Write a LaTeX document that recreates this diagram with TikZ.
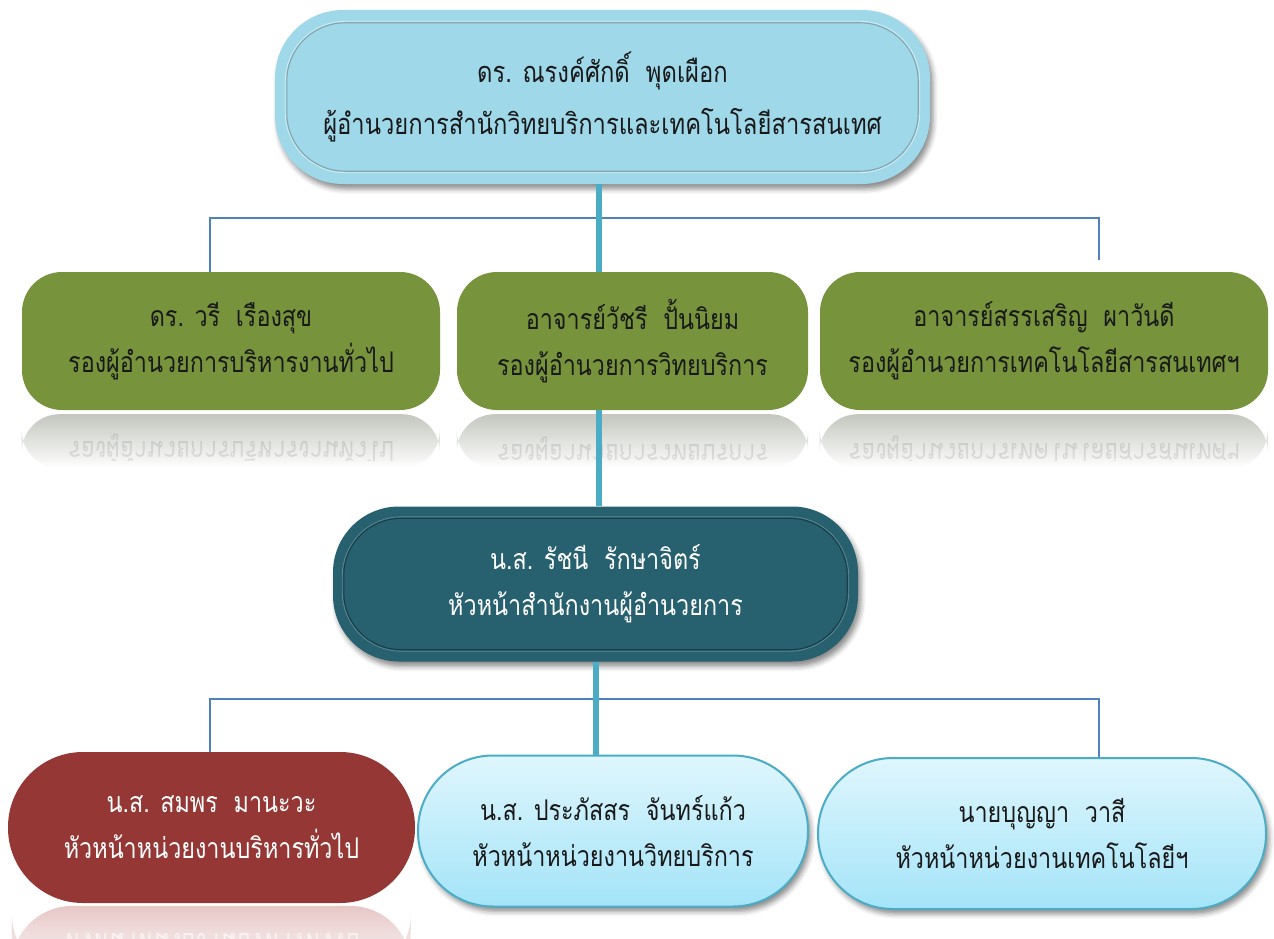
\documentclass[tikz,border=0pt]{standalone}
\usepackage{fontspec}
\usepackage{graphicx}
\newfontfamily\thai[Script=Thai, FakeStretch=0.82]{Loma}
\usetikzlibrary{shadows.blur,fadings}

\definecolor{topfill}{HTML}{9ED8E9}
\definecolor{vpgreen}{HTML}{77933C}
\definecolor{officeteal}{HTML}{27606F}
\definecolor{unitred}{HTML}{953735}
\definecolor{unittop}{HTML}{DFF6FD}
\definecolor{unitbot}{HTML}{A4E4F8}
\definecolor{unitedge}{HTML}{4BACC6}
\definecolor{busblue}{HTML}{4F81BD}
\definecolor{trunkteal}{HTML}{4BACC6}
\definecolor{reflgray}{HTML}{A3A99B}
\definecolor{reflred}{HTML}{D9A9A8}

\tikzfading[name=reflfade, top color=transparent!35, bottom color=transparent!100]

\tikzset{
  orgbox/.style={align=center, inner sep=0pt, text=black!90,
    font=\thai\fontsize{28.5}{46}\selectfont},
  softshadow/.style={blur shadow={shadow xshift=3pt, shadow yshift=-5pt,
    shadow opacity=45, shadow blur radius=5pt}},
  topbox/.style={orgbox, fill=topfill, rounded corners=68pt,
    minimum width=655pt, minimum height=174pt, softshadow,
    font=\thai\fontsize{29}{52}\selectfont},
  vpbox/.style={orgbox, fill=vpgreen, rounded corners=40pt,
    minimum height=138pt},
  officebox/.style={orgbox, fill=officeteal, text=white, rounded corners=66pt,
    minimum width=525pt, minimum height=155pt, softshadow},
  redbox/.style={orgbox, fill=unitred, text=white, rounded corners=75pt,
    minimum height=151pt},
  unitbox/.style={orgbox, top color=unittop, bottom color=unitbot,
    draw=unitedge, line width=2pt, rounded corners=75pt,
    minimum height=151pt, softshadow},
  bevel/.style={rounded corners=#1, line width=1.1pt},
  bus/.style={draw=busblue, line width=2pt},
  trunk/.style={draw=trunkteal, line width=6pt},
  refltext/.style={font=\thai\fontsize{28.5}{46}\selectfont}
}

\begin{document}
\begin{tikzpicture}[x=1pt,y=-1pt]
\useasboundingbox (0,0) rectangle (1274,939);

% ---- director ----
\node[topbox] (dir) at (602.5,97)
  {ดร. ณรงค์ศักดิ์\ \ พุดเผือก\\ผู้อำนวยการสำนักวิทยบริการและเทคโนโลยีสารสนเทศ};
\draw[bevel=58pt, draw=topfill!65!black!80]
  ([shift={(12pt,-13pt)}]dir.north west) rectangle ([shift={(-12pt,13pt)}]dir.south east);
\draw[bevel=60pt, draw=white, opacity=0.55, line width=0.8pt]
  ([shift={(10.5pt,-11.5pt)}]dir.north west) rectangle ([shift={(-10.5pt,11.5pt)}]dir.south east);

% ---- deputy directors ----
\node[vpbox, minimum width=418pt] (vd1) at (231,341)
  {ดร. วรี\ \ เรืองสุข\\รองผู้อำนวยการบริหารงานทั่วไป};
\node[vpbox, minimum width=351pt] (vd2) at (632.5,341)
  {อาจารย์วัชรี\ \ ปั้นนิยม\\รองผู้อำนวยการวิทยบริการ};
\node[vpbox, minimum width=448pt] (vd3) at (1044,341)
  {อาจารย์สรรเสริญ\ \ ผาวันดี\\รองผู้อำนวยการเทคโนโลยีสารสนเทศฯ};

% reflections under the deputy boxes
\foreach \b/\t in {vd1/รองผู้อำนวยการบริหารงานทั่วไป,
                   vd2/รองผู้อำนวยการวิทยบริการ,
                   vd3/รองผู้อำนวยการเทคโนโลยีสารสนเทศฯ}{
  \fill[reflgray, path fading=reflfade, rounded corners=38pt]
    ([yshift=-4pt]\b.south west) rectangle ([yshift=-58pt]\b.south east);
  \begin{scope}
    \clip ([yshift=-4pt]\b.south west) rectangle ([yshift=-50pt]\b.south east);
    \node[refltext, text=black, opacity=0.10] at ([yshift=-42pt]\b.south)
      {\scalebox{1}[-1]{\t}};
  \end{scope}
}

% ---- office head ----
\node[officebox] (off) at (595.5,584)
  {น.ส. รัชนี\ \ รักษาจิตร์\\หัวหน้าสำนักงานผู้อำนวยการ};
\draw[bevel=57pt, draw=black, opacity=0.35]
  ([shift={(11pt,-12pt)}]off.north west) rectangle ([shift={(-11pt,12pt)}]off.south east);
\draw[bevel=59pt, draw=white, opacity=0.25, line width=0.8pt]
  ([shift={(9.5pt,-10.5pt)}]off.north west) rectangle ([shift={(-9.5pt,10.5pt)}]off.south east);

% ---- units ----
\fill[reflred, path fading=reflfade, rounded corners=60pt]
  (12,906) rectangle (411,975);
\node[redbox, minimum width=407pt] (u1) at (211.5,827.5)
  {น.ส. สมพร\ \ มานะวะ\\หัวหน้าหน่วยงานบริหารทั่วไป};
\begin{scope}
  \clip (12,906) rectangle (411,939);
  \node[refltext, text=white, opacity=0.6] at ([yshift=-45pt]u1.south)
    {\scalebox{1}[-1]{หัวหน้าหน่วยงานบริหารทั่วไป}};
\end{scope}
\node[unitbox, minimum width=390pt] (u2) at (613,831)
  {น.ส. ประภัสสร\ \ จันทร์แก้ว\\หัวหน้าหน่วยงานวิทยบริการ};
\node[unitbox, minimum width=448pt] (u3) at (1042,833.5)
  {นายบุญญา\ \ วาสี\\หัวหน้าหน่วยงานเทคโนโลยีฯ};

% ---- connectors ----
\coordinate (busAL) at (210,218);
\coordinate (busAR) at (1099,218);
\coordinate (busBL) at (210,699);
\coordinate (busBR) at (1099,699);

\draw[bus] (vd1.north -| busAL) -- (busAL) -- (busAR) -- ([yshift=12pt]vd3.north -| busAR);
\draw[bus] (u1.north -| busBL) -- (busBL) -- (busBR) -- (u3.north -| busBR);

\draw[trunk] ([xshift=-4pt]dir.south) -- ([xshift=-4pt]dir.south |- vd2.north);
\draw[trunk] ([xshift=-4pt]dir.south |- vd2.south) -- ([xshift=-4pt]dir.south |- off.north);
\draw[trunk] (off.south) -- (off.south |- u2.north);
\end{tikzpicture}
\end{document}
